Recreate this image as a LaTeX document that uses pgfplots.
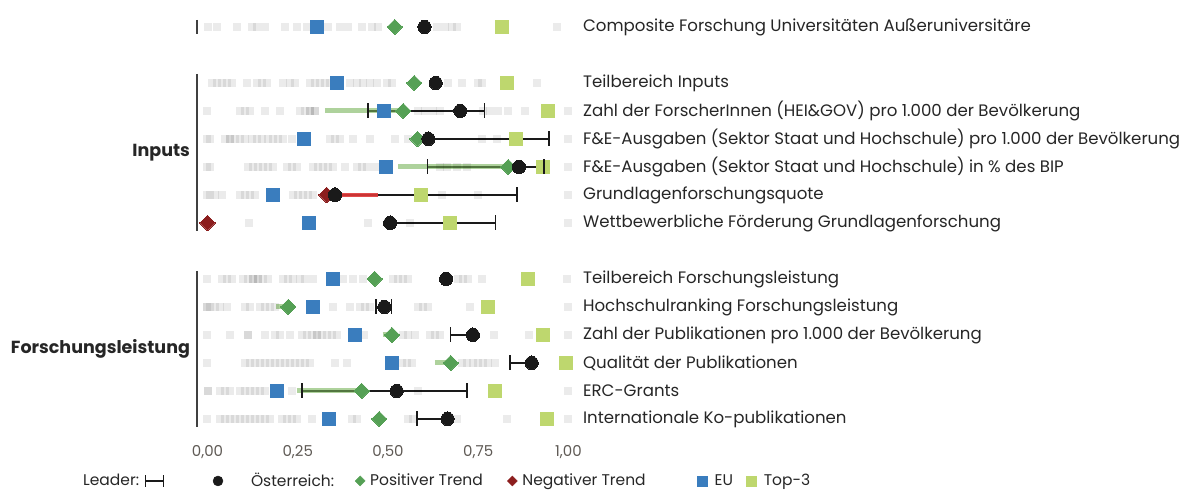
\documentclass[border=0pt]{standalone}
\usepackage{pgfplots}
\usepackage{pgfplotstable}
\pgfplotsset{compat=1.18}
\usepackage{fontspec}
\setmainfont{Poppins}

\definecolor{euBlue}{RGB}{58,125,190}
\definecolor{topLime}{RGB}{190,215,110}
\definecolor{posGreen}{RGB}{85,160,85}
\definecolor{negRed}{RGB}{140,30,30}
\definecolor{trendGreen}{RGB}{120,180,90}
\definecolor{trendRed}{RGB}{222,55,55}
\definecolor{atBlack}{RGB}{26,26,26}
\definecolor{txt}{RGB}{38,38,38}
\definecolor{ticktxt}{RGB}{95,90,85}

% rows: 27 composite, 83-223 inputs, 279-419 forschungsleistung
\pgfplotstableread{
x y
0.001 27
0.025 27
0.081 27
0.122 27
0.136 27
0.159 27
0.215 27
0.247 27
0.275 27
0.335 27
0.367 27
0.390 27
0.427 27
0.455 27
0.473 27
0.635 27
0.658 27
0.676 27
0.690 27
0.967 27
0.012 83
0.025 83
0.039 83
0.053 83
0.067 83
0.109 83
0.136 83
0.150 83
0.164 83
0.210 83
0.229 83
0.242 83
0.285 83
0.298 83
0.312 83
0.326 83
0.339 83
0.395 83
0.413 83
0.432 83
0.450 83
0.469 83
0.497 83
0.511 83
0.666 83
0.705 83
0.748 83
0.760 83
0.913 83
0.000 111
0.090 111
0.104 111
0.118 111
0.159 111
0.200 111
0.256 111
0.270 111
0.284 111
0.284 111
0.298 111
0.298 111
0.583 111
0.603 111
0.625 111
0.645 111
0.763 111
0.783 111
0.805 111
0.832 111
0.880 111
0.999 111
0.000 139
0.007 139
0.048 139
0.062 139
0.062 139
0.076 139
0.090 139
0.104 139
0.122 139
0.136 139
0.150 139
0.168 139
0.181 139
0.195 139
0.209 139
0.233 139
0.339 139
0.353 139
0.367 139
0.403 139
0.450 139
0.519 139
0.556 139
0.760 139
0.801 139
1.000 139
0.000 167
0.007 167
0.112 167
0.126 167
0.140 167
0.154 167
0.168 167
0.181 167
0.220 167
0.234 167
0.248 167
0.292 167
0.306 167
0.320 167
0.334 167
0.348 167
0.381 167
0.414 167
0.428 167
0.442 167
0.465 167
0.644 167
0.663 167
0.691 167
0.719 167
0.999 167
0.000 195
0.007 195
0.021 195
0.040 195
0.090 195
0.104 195
0.118 195
0.132 195
0.237 195
0.251 195
0.265 195
0.278 195
0.292 195
0.649 195
0.748 195
0.999 195
0.000 223
0.116 223
0.445 223
0.561 223
0.999 223
0.000 279
0.039 279
0.053 279
0.067 279
0.098 279
0.112 279
0.126 279
0.126 279
0.140 279
0.140 279
0.154 279
0.168 279
0.209 279
0.223 279
0.237 279
0.256 279
0.270 279
0.292 279
0.375 279
0.403 279
0.430 279
0.515 279
0.528 279
0.542 279
0.555 279
0.695 279
0.709 279
0.723 279
0.760 279
0.995 279
0.000 307
0.000 307
0.007 307
0.021 307
0.035 307
0.053 307
0.104 307
0.118 307
0.145 307
0.159 307
0.173 307
0.187 307
0.348 307
0.395 307
0.422 307
0.436 307
0.450 307
0.583 307
0.597 307
0.611 307
0.727 307
0.999 307
0.000 335
0.062 335
0.112 335
0.112 335
0.159 335
0.187 335
0.200 335
0.229 335
0.262 335
0.276 335
0.289 335
0.303 335
0.303 335
0.317 335
0.331 335
0.345 335
0.359 335
0.434 335
0.541 335
0.555 335
0.575 335
0.616 335
0.630 335
0.645 335
0.794 335
0.890 335
0.999 335
0.000 363
0.104 363
0.118 363
0.132 363
0.145 363
0.159 363
0.173 363
0.187 363
0.200 363
0.215 363
0.229 363
0.242 363
0.256 363
0.270 363
0.284 363
0.353 363
0.386 363
0.538 363
0.552 363
0.566 363
0.704 363
0.718 363
0.735 363
0.749 363
0.763 363
0.777 363
0.796 363
0.002 391
0.002 391
0.035 391
0.048 391
0.062 391
0.090 391
0.104 391
0.118 391
0.132 391
0.145 391
0.159 391
0.233 391
0.584 391
0.999 391
0.000 419
0.035 419
0.048 419
0.062 419
0.076 419
0.090 419
0.104 419
0.118 419
0.132 419
0.145 419
0.159 419
0.173 419
0.206 419
0.220 419
0.234 419
0.248 419
0.289 419
0.400 419
0.414 419
0.555 419
0.569 419
0.691 419
0.831 419
0.999 419
}\others

% y eu top3 at
\pgfplotstableread{
y eu top at
27 0.302 0.817 0.601
83 0.358 0.830 0.632
111 0.490 0.944 0.700
139 0.268 0.855 0.612
167 0.494 0.930 0.863
195 0.182 0.592 0.353
223 0.282 0.672 0.506
279 0.348 0.889 0.661
307 0.293 0.778 0.490
335 0.409 0.930 0.735
363 0.512 0.993 0.898
391 0.192 0.796 0.524
419 0.337 0.940 0.665
}\marks

\begin{document}
\fontsize{16.6bp}{20bp}\selectfont
\begin{tikzpicture}
\begin{axis}[
    x=361bp, y=1bp,
    xmin=-0.03, xmax=1.0,
    ymin=10, ymax=440,
    y dir=reverse,
    clip=false,
    axis line style={draw=none},
    major tick length=0pt,
    ytick=\empty,
    xtick={0,0.25,0.5,0.75,1},
    xticklabel style={text=ticktxt, font=\fontsize{15bp}{18bp}\selectfont,
        /pgf/number format/.cd, fixed, fixed zerofill, precision=2, use comma, assume math mode=true},
    legend columns=-1,
    legend style={draw=none, fill=none, inner sep=0pt, column sep=0pt,
        nodes={inner sep=0pt, text=txt},
        font=\fontsize{15.5bp}{18bp}\selectfont,
        at={(axis description cs:-0.3058,-0.0953)}, anchor=west},
]
% bounding box of the whole figure (1192 x 490)
\path[draw=none] (axis cs:-0.5748,0) rectangle (axis cs:2.7272,490);

% other countries
\addplot[forget plot, only marks, mark=square*, mark size=4bp,
    mark options={draw=black, fill=black, draw opacity=0, fill opacity=0.08}]
    table[x=x, y=y] {\others};

% Top-3
\addplot[forget plot, only marks, mark=square*, mark size=6.5bp,
    mark options={topLime, line width=0pt}]
    table[x=top, y=y] {\marks};

% leader ranges
\addplot[forget plot, atBlack, line width=1.3bp, mark=|, mark size=7.5bp, unbounded coords=jump]
    table {
x y
0.445 111
0.767 111
nan nan
0.612 139
0.946 139
nan nan
0.609 167
0.932 167
nan nan
0.353 195
0.857 195
nan nan
0.506 223
0.797 223
nan nan
0.467 307
0.510 307
nan nan
0.674 335
0.735 335
nan nan
0.838 363
0.898 363
nan nan
0.262 391
0.719 391
nan nan
0.580 419
0.665 419
};

% trend lines
\addplot[forget plot, trendGreen, line width=5bp, opacity=0.6, unbounded coords=jump]
    table {
x y
0.325 111
0.542 111
nan nan
0.529 167
0.833 167
nan nan
0.190 307
0.224 307
nan nan
0.485 335
0.511 335
nan nan
0.630 363
0.674 363
nan nan
0.247 391
0.427 391
};
\addplot[forget plot, trendRed, line width=4bp, opacity=0.9]
    table {
x y
0.330 195
0.471 195
};

% EU
\addplot[forget plot, only marks, mark=square*, mark size=6.5bp,
    mark options={euBlue, line width=0pt}]
    table[x=eu, y=y] {\marks};

% Austria trend
\addplot[forget plot, only marks, mark=square*, mark size=5.4bp,
    mark options={posGreen, line width=0pt, rotate=45}]
    table {
x y
0.519 27
0.573 83
0.542 111
0.582 139
0.833 167
0.463 279
0.224 307
0.511 335
0.674 363
0.427 391
0.476 419
};
\addplot[forget plot, only marks, mark=square*, mark size=5.4bp,
    mark options={negRed, line width=0pt, rotate=45}]
    table {
x y
0.330 195
0.000 223
};

% Austria
\addplot[forget plot, only marks, mark=*, mark size=6.6bp,
    mark options={atBlack, line width=0pt}]
    table[x=at, y=y] {\marks};

% group brackets
\draw[black!75, line width=1.6bp] (axis cs:-0.029,20) -- (axis cs:-0.029,34);
\draw[black!75, line width=1.6bp] (axis cs:-0.029,74) -- (axis cs:-0.029,231);
\draw[black!75, line width=1.6bp] (axis cs:-0.029,271) -- (axis cs:-0.029,427);

\node[anchor=east, inner sep=0pt, text=txt, font=\fontsize{17.5bp}{21bp}\selectfont\bfseries] at (axis cs:-0.048,153) {Inputs};
\node[anchor=east, inner sep=0pt, text=txt, font=\fontsize{17.5bp}{21bp}\selectfont\bfseries] at (axis cs:-0.048,349) {Forschungsleistung};

% row labels
\begin{scope}[every node/.style={anchor=west, inner sep=0pt, text=txt}]
\node at (axis cs:1.04,27) {Composite Forschung Universitäten Außeruniversitäre};
\node at (axis cs:1.04,83) {Teilbereich Inputs};
\node at (axis cs:1.04,111) {Zahl der ForscherInnen (HEI\&GOV) pro 1.000 der Bevölkerung};
\node at (axis cs:1.04,139) {F\&E-Ausgaben (Sektor Staat und Hochschule) pro 1.000 der Bevölkerung};
\node at (axis cs:1.04,167) {F\&E-Ausgaben (Sektor Staat und Hochschule) in \% des BIP};
\node at (axis cs:1.04,195) {Grundlagenforschungsquote};
\node at (axis cs:1.04,223) {Wettbewerbliche Förderung Grundlagenforschung};
\node at (axis cs:1.04,279) {Teilbereich Forschungsleistung};
\node at (axis cs:1.04,307) {Hochschulranking Forschungsleistung};
\node at (axis cs:1.04,335) {Zahl der Publikationen pro 1.000 der Bevölkerung};
\node at (axis cs:1.04,363) {Qualität der Publikationen};
\node at (axis cs:1.04,391) {ERC-Grants};
\node at (axis cs:1.04,419) {Internationale Ko-publikationen};
\end{scope}

% legend
\addlegendimage{legend image code/.code={\path[draw=none] (0bp,0bp) -- (0bp,0bp);}}
\addlegendentry{\makebox[62bp][l]{Leader:}}
\addlegendimage{legend image code/.code={
    \draw[atBlack, line width=1.3bp] (0bp,-6bp) -- (0bp,6bp) (0bp,0bp) -- (18bp,0bp) (18bp,-6bp) -- (18bp,6bp);
    \path[draw=none] (0bp,0bp) -- (66bp,0bp);}}
\addlegendentry{}
\addlegendimage{legend image code/.code={
    \fill[atBlack] (5bp,0bp) circle (5bp);
    \path[draw=none] (0bp,0bp) -- (38bp,0bp);}}
\addlegendentry{\makebox[104bp][l]{Österreich:}}
\addlegendimage{legend image code/.code={
    \fill[posGreen] (5bp,-5bp) -- (10bp,0bp) -- (5bp,5bp) -- (0bp,0bp) -- cycle;
    \path[draw=none] (0bp,0bp) -- (15bp,0bp);}}
\addlegendentry{\makebox[137bp][l]{Positiver Trend}}
\addlegendimage{legend image code/.code={
    \fill[negRed] (5bp,-5bp) -- (10bp,0bp) -- (5bp,5bp) -- (0bp,0bp) -- cycle;
    \path[draw=none] (0bp,0bp) -- (15bp,0bp);}}
\addlegendentry{\makebox[175bp][l]{Negativer Trend}}
\addlegendimage{legend image code/.code={
    \fill[euBlue] (0bp,-5bp) rectangle (10bp,5bp);
    \path[draw=none] (0bp,0bp) -- (17bp,0bp);}}
\addlegendentry{\makebox[31bp][l]{EU}}
\addlegendimage{legend image code/.code={
    \fill[topLime] (0bp,-5bp) rectangle (10bp,5bp);
    \path[draw=none] (0bp,0bp) -- (18bp,0bp);}}
\addlegendentry{Top-3}
\end{axis}
\end{tikzpicture}
\end{document}
